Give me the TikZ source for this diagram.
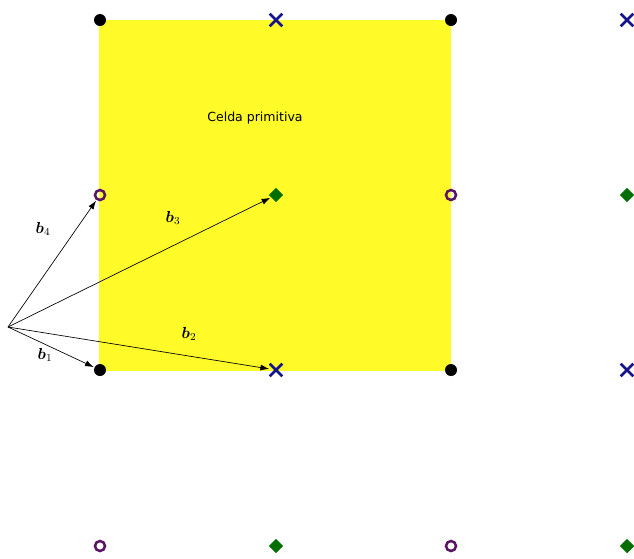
\documentclass[tikz,border=0pt]{standalone}
\usepackage{fontspec}
\usepackage{amsmath}
\usepackage{bm}
\newfontfamily\labelfont{DejaVu Sans}
\usetikzlibrary{arrows.meta,shapes.geometric,shapes.misc}
\definecolor{cellyellow}{RGB}{255,250,40}
\definecolor{crossblue}{RGB}{20,20,140}
\definecolor{ringpurple}{RGB}{90,20,100}
\definecolor{diagreen}{RGB}{0,110,0}
\tikzset{
  dotpt/.style={circle,fill=black,inner sep=0pt,minimum size=9pt},
  crosspt/.style={cross out,draw=crossblue,line width=1.9pt,inner sep=0pt,minimum size=7.5pt},
  ringpt/.style={circle,draw=ringpurple,line width=1.9pt,inner sep=0pt,minimum size=7.5pt},
  diapt/.style={diamond,fill=diagreen,inner sep=0pt,minimum size=11pt},
  vec/.style={-{Latex[length=6.5pt,width=4.5pt]},line width=0.5pt,black,shorten >=0.5pt},
  veclab/.style={font=\fontsize{11.5}{13}\selectfont}
}
\begin{document}
\begin{tikzpicture}[x=0.75pt,y=-0.75pt]
\useasboundingbox (0,0) rectangle (634,558);
\fill[cellyellow] (99,20) rectangle (451,371);
\node[font=\labelfont\fontsize{9.4}{11}\selectfont] (title) at (255,118) {Celda primitiva};
% lattice points
\node[dotpt] (p11) at (100,20) {};
\node[crosspt] (p21) at (276,20) {};
\node[dotpt] (p31) at (451,20) {};
\node[crosspt] (p41) at (627,20) {};
\node[ringpt] (p12) at (100,195) {};
\node[diapt] (p22) at (276,195) {};
\node[ringpt] (p32) at (451,195) {};
\node[diapt] (p42) at (627,195) {};
\node[dotpt] (p13) at (100,370) {};
\node[crosspt] (p23) at (276,370) {};
\node[dotpt] (p33) at (451,370) {};
\node[crosspt] (p43) at (627,370) {};
\node[ringpt] (p14) at (100,546) {};
\node[diapt] (p24) at (276,546) {};
\node[ringpt] (p34) at (451,546) {};
\node[diapt] (p44) at (627,546) {};
% vectors
\coordinate (o) at (8,327);
\draw[vec] (o) -- (p13);
\draw[vec] (o) -- (p23);
\draw[vec] (o) -- (p22);
\draw[vec] (o) -- (p12);
\node[veclab] (l1) at (45,355) {$\bm{b}_1$};
\node[veclab] (l2) at (189,334) {$\bm{b}_2$};
\node[veclab] (l3) at (173,218) {$\bm{b}_3$};
\node[veclab] (l4) at (43,229) {$\bm{b}_4$};
\end{tikzpicture}
\end{document}
